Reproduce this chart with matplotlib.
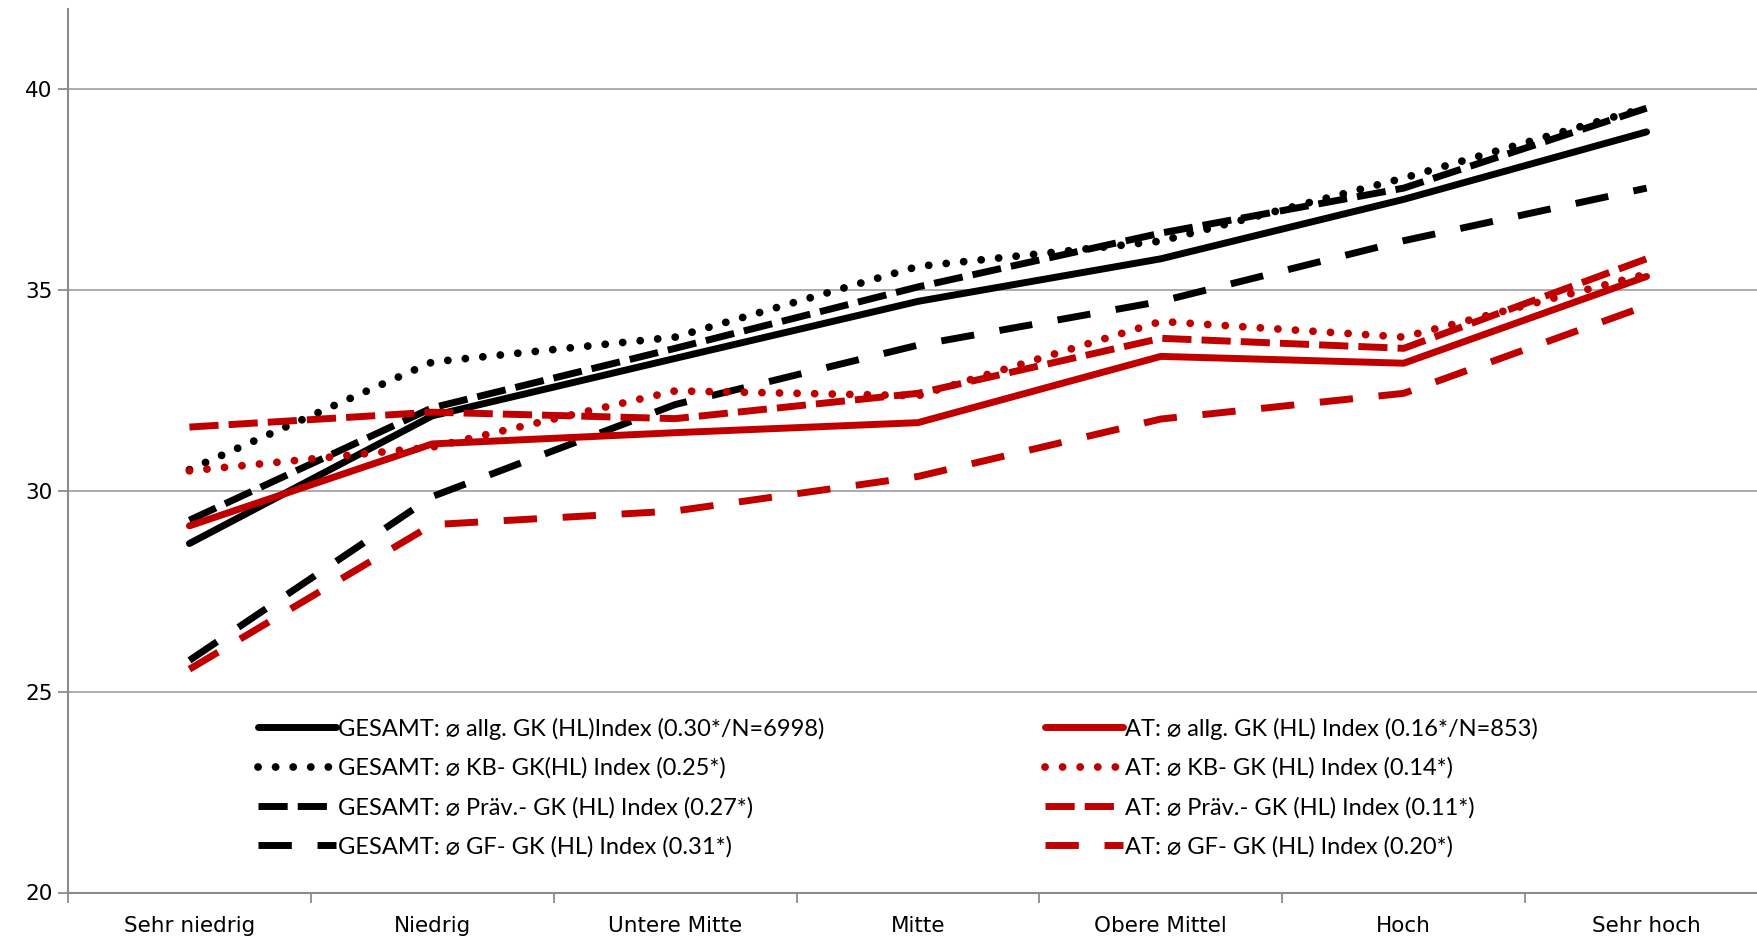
import matplotlib
matplotlib.use('Agg')
import matplotlib.pyplot as plt
import numpy as np

# Categories and series values
categories = ['Sehr niedrig', 'Niedrig', 'Untere Mitte', 'Mitte', 'Obere Mittel', 'Hoch', 'Sehr hoch']

ges_allg = [28.69, 31.87, 33.30, 34.72, 35.78, 37.26, 38.94]
ges_kb = [30.53, 33.21, 33.83, 35.59, 36.22, 37.79, 39.55]
ges_praev = [29.27, 32.07, 33.55, 35.08, 36.42, 37.54, 39.53]
ges_gf = [25.78, 29.86, 32.15, 33.63, 34.72, 36.23, 37.54]

at_allg = [29.13, 31.17, 31.45, 31.70, 33.35, 33.18, 35.34]
at_kb = [30.50, 31.09, 32.49, 32.37, 34.22, 33.83, 35.40]
at_praev = [31.59, 31.96, 31.80, 32.43, 33.80, 33.55, 35.78]
at_gf = [25.56, 29.16, 29.50, 30.36, 31.79, 32.43, 34.61]

labels_ges = ['GESAMT: \u2300 allg. GK (HL)Index (0.30*/N=6998)',
              'GESAMT: \u2300 KB- GK(HL) Index (0.25*)',
              'GESAMT: \u2300 Präv.- GK (HL) Index (0.27*)',
              'GESAMT: \u2300 GF- GK (HL) Index (0.31*)']
labels_at = ['AT: \u2300 allg. GK (HL) Index (0.16*/N=853)',
             'AT: \u2300 KB- GK (HL) Index (0.14*)',
             'AT: \u2300 Präv.- GK (HL) Index (0.11*)',
             'AT: \u2300 GF- GK (HL) Index (0.20*)']

RED = '#C00000'
LW = 5

fig = plt.figure(figsize=(17.58, 9.41), dpi=100)
ax = fig.add_axes([68 / 1758, 48.5 / 941, 1700 / 1758, 883.5 / 941])

x = np.arange(len(categories))

def draw(vals, color, style, label):
    kw = dict(color=color, label=label, solid_capstyle='round')
    if style == 'solid':
        line, = ax.plot(x, vals, lw=LW, **kw)
    elif style == 'dot':
        line, = ax.plot(x, vals, lw=LW + 0.6, dashes=(0.01, 2.25),
                        dash_capstyle='round', **kw)
    elif style == 'dash':
        line, = ax.plot(x, vals, lw=LW, dashes=(4.2, 1.45), **kw)
    else:
        line, = ax.plot(x, vals, lw=LW, dashes=(4.8, 3.7), **kw)
    return line

h_ges = [draw(ges_allg, 'black', 'solid', labels_ges[0]),
         draw(ges_kb, 'black', 'dot', labels_ges[1]),
         draw(ges_praev, 'black', 'dash', labels_ges[2]),
         draw(ges_gf, 'black', 'gf', labels_ges[3])]
h_at = [draw(at_allg, RED, 'solid', labels_at[0]),
        draw(at_kb, RED, 'dot', labels_at[1]),
        draw(at_praev, RED, 'dash', labels_at[2]),
        draw(at_gf, RED, 'gf', labels_at[3])]

ax.set_xlim(-0.5, 6.5)
ax.set_ylim(20, 42)
ax.set_yticks([20, 25, 30, 35, 40])
ax.yaxis.grid(True, color='#A6A6A6', lw=1.3)
ax.set_axisbelow(True)

ax.set_xticks(x)
ax.set_xticklabels(categories, fontsize=15.5)
ax.set_xticks(np.arange(-0.5, 7, 1), minor=True)
ax.tick_params(axis='x', which='major', length=0, pad=17)
ax.tick_params(axis='x', which='minor', length=7, color='#8C8C8C', width=1.3)
ax.tick_params(axis='y', length=7, color='#8C8C8C', width=1.3, labelsize=15.5, pad=4)

for s in ['top', 'right']:
    ax.spines[s].set_visible(False)
for s in ['left', 'bottom']:
    ax.spines[s].set_color('#8C8C8C')
    ax.spines[s].set_linewidth(1.5)

font = dict(family=['Lato', 'DejaVu Sans'], size=17)
leg1 = ax.legend(handles=h_ges, loc='upper left', bbox_to_anchor=(0.0992, 0.222),
                 frameon=False, prop=font, handlelength=3.3, handletextpad=0.1,
                 labelspacing=0.75)
ax.add_artist(leg1)
ax.legend(handles=h_at, loc='upper left', bbox_to_anchor=(0.562, 0.222),
          frameon=False, prop=font, handlelength=3.3, handletextpad=0.1,
          labelspacing=0.75)

fig.savefig('out.png', dpi=100)
